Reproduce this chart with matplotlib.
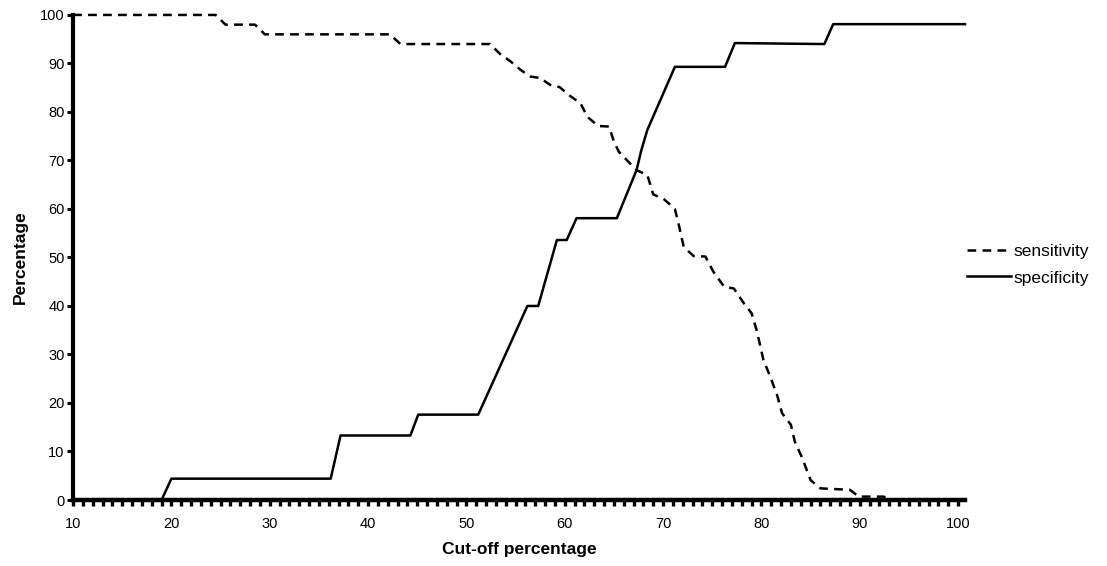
import matplotlib
matplotlib.use("Agg")
import matplotlib.pyplot as plt
from matplotlib.ticker import MultipleLocator

plt.rcParams['font.family'] = ['Liberation Sans', 'DejaVu Sans']

# sensitivity curve (cut-off %, percentage)
sens_x = [10, 24.5, 25.5, 28.5, 29.5, 42.2, 43.3, 52.4, 53.4, 54.5, 55.5, 56.5, 57.5,
          58.5, 59.5, 60.4, 61.6, 62.3, 63.4, 64.5, 65, 65.5, 66.3, 67.3, 68.4, 69,
          70.1, 71.2, 71.6, 72.1, 73.1, 74.3, 75.1, 76.2, 77.2, 78.2, 79, 79.5, 79.9,
          80.2, 80.9, 81.6, 82.1, 83, 83.4, 84.1, 85, 86, 89, 89.9, 92.4, 93.5, 100.7]
sens_y = [100, 100, 98, 98, 96, 96, 94, 94, 92, 90.4, 88.7, 87.3, 87,
          85.6, 85.1, 83.5, 81.8, 79, 77.1, 77, 73.9, 71.8, 70.1, 68, 67, 63,
          62, 60, 56.7, 52.2, 50.3, 50.2, 47.1, 44, 43.6, 40.6, 38.5, 35.1, 31.6,
          28.9, 25.4, 21.6, 17.9, 15.5, 12, 8.9, 4.1, 2.4, 2.1, 0.7, 0.7, 0, 0]

# specificity curve
spec_x = [10, 19, 20, 36.2, 37.2, 44.3, 45.1, 51.2, 56.2, 57.3, 59.2, 60.2, 61.2,
          65.3, 67.3, 67.8, 68.4, 71.2, 76.3, 77.3, 86.4, 87.3, 100.7]
spec_y = [0, 0, 4.4, 4.4, 13.3, 13.3, 17.6, 17.6, 40, 40, 53.6, 53.6, 58.1,
          58.1, 68, 72.2, 76.3, 89.3, 89.3, 94.2, 94, 98.1, 98.1]

xticks = list(range(10, 101, 10))
yticks = list(range(0, 101, 10))

fig = plt.figure(figsize=(11.07, 5.66), dpi=100)
ax = fig.add_axes([0.066, 0.1166, 0.8057, 0.857])

ax.plot(sens_x, sens_y, color='black', linewidth=1.8, linestyle=(0, (3.5, 2.5)),
        label='sensitivity', clip_on=False)
ax.plot(spec_x, spec_y, color='black', linewidth=1.8, label='specificity',
        clip_on=False)

ax.set_xlim(10, 100.7)
ax.set_ylim(0, 100)

for side in ['top', 'right']:
    ax.spines[side].set_visible(False)
ax.spines['left'].set_linewidth(3)
ax.spines['bottom'].set_linewidth(3.2)

ax.set_xticks(xticks)
ax.xaxis.set_minor_locator(MultipleLocator(1))
ax.set_yticks(yticks)
ax.tick_params(axis='x', which='both', direction='out', length=4, width=2.4, pad=8,
               labelsize=10.5)
ax.tick_params(axis='y', which='major', direction='out', length=4, width=2.2, pad=2,
               labelsize=10.5)

ax.set_xlabel('Cut-off percentage', fontsize=12.5, fontweight='bold', labelpad=8)
ax.set_ylabel('Percentage', fontsize=12.5, fontweight='bold', labelpad=9)

ax.legend(loc='center left', bbox_to_anchor=(0.995, 0.485), frameon=False,
          fontsize=12.5, handlelength=2.5, handletextpad=0.15, labelspacing=0.65,
          borderaxespad=0)

fig.savefig('out.png', dpi=100)
